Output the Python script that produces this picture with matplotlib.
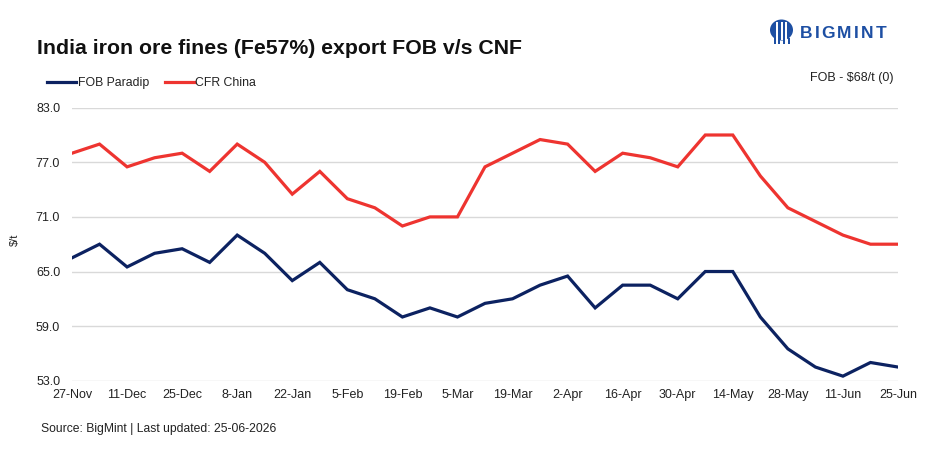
import matplotlib
matplotlib.use("Agg")
import matplotlib.pyplot as plt
from matplotlib.patches import Ellipse, Rectangle

plt.rcParams['font.family'] = ['Liberation Sans', 'DejaVu Sans']

tick_labels = ["27-Nov", "11-Dec", "25-Dec", "8-Jan", "22-Jan", "5-Feb", "19-Feb",
               "5-Mar", "19-Mar", "2-Apr", "16-Apr", "30-Apr", "14-May", "28-May",
               "11-Jun", "25-Jun"]

fob_paradip = [66.5, 68.0, 65.5, 67.0, 67.5, 66.0, 69.0, 67.0, 64.0, 66.0, 63.0,
               62.0, 60.0, 61.0, 60.0, 61.5, 62.0, 63.5, 64.5, 61.0, 63.5, 63.5,
               62.0, 65.0, 65.0, 60.0, 56.5, 54.5, 53.5, 55.0, 54.5]
cfr_china = [78.0, 79.0, 76.5, 77.5, 78.0, 76.0, 79.0, 77.0, 73.5, 76.0, 73.0,
             72.0, 70.0, 71.0, 71.0, 76.5, 78.0, 79.5, 79.0, 76.0, 78.0, 77.5,
             76.5, 80.0, 80.0, 75.5, 72.0, 70.5, 69.0, 68.0, 68.0]
y_ticks = [53, 59, 65, 71, 77, 83]

NAVY = "#0c2261"
RED = "#ee3430"
GRID = "#d9d9d9"
TXT = "#222222"

W, H = 926, 454
fig = plt.figure(figsize=(W/100, H/100), dpi=100)
ax = fig.add_axes([72/W, 1-380.7/H, (898-72)/W, (380.7-107.7)/H])

x = list(range(len(fob_paradip)))
ax.plot(x, fob_paradip, color=NAVY, lw=2.3, solid_joinstyle='miter', label="FOB Paradip", zorder=3)
ax.plot(x, cfr_china, color=RED, lw=2.3, solid_joinstyle='miter', label="CFR China", zorder=3)

ax.set_xlim(0, len(x)-1)
ax.set_ylim(53, 83)
ax.set_yticks(y_ticks)
ax.set_yticklabels([f"{v:.1f}" for v in y_ticks])
ax.set_xticks(x[::2])
ax.set_xticklabels(tick_labels)
ax.grid(axis='y', color=GRID, lw=1.0)
ax.set_axisbelow(True)
for s in ax.spines.values():
    s.set_visible(False)
ax.tick_params(axis='both', length=0, labelsize=9, colors=TXT)
ax.tick_params(axis='y', pad=8.5)
ax.tick_params(axis='x', pad=6)

fig.text(15/W, 1-240/H, "$/t", fontsize=8, rotation=90, ha='center', va='center', color=TXT)

leg = fig.legend(loc='center left', bbox_to_anchor=(47/W, 1-83/H), ncol=2, frameon=False,
                 fontsize=8.8, handlelength=2.4, handletextpad=0.1, columnspacing=1.3,
                 borderaxespad=0, borderpad=0)
for t in leg.get_texts():
    t.set_color(TXT)

fig.text(37/W, 1-48/H, "India iron ore fines (Fe57%) export FOB v/s CNF",
         fontsize=15.3, fontweight='bold', va='center', ha='left', color="#111111")
fig.text(893/W, 1-78/H, "FOB - $68/t (0)", fontsize=9, ha='right', va='center', color=TXT)
fig.text(41/W, 1-429/H, "Source: BigMint | Last updated: 25-06-2026", fontsize=8.7,
         ha='left', va='center', color=TXT)

# logo
LOGO = "#1d4fa3"
letters = "BIGMINT"
renderer = fig.canvas.get_renderer()
widths = []
for ch in letters:
    t = fig.text(0, 0, ch, fontsize=12.5, fontweight='bold')
    widths.append(t.get_window_extent(renderer).width)
    t.remove()
lx0, lx1 = 800, 886
gap = (lx1 - lx0 - sum(widths)) / (len(letters) - 1)
cx = lx0
for ch, w in zip(letters, widths):
    fig.text(cx/W, 1-34/H, ch, fontsize=12.5, fontweight='bold',
             ha='left', va='center', color=LOGO)
    cx += w + gap
fig.patches.append(Ellipse((781.5/W, 1-30/H), 23/W, 21/H, transform=fig.transFigure,
                           facecolor=LOGO, edgecolor='none'))
for dx in (-4.5, 0, 4.5):
    fig.patches.append(Rectangle(((781.5+dx-1)/W, 1-40/H), 2/W, 18/H, transform=fig.transFigure,
                                 facecolor='white', edgecolor='none'))
for dx in (-7, -2.3, 2.3, 7):
    fig.patches.append(Rectangle(((781.5+dx-1)/W, 1-44/H), 2/W, 6/H, transform=fig.transFigure,
                                 facecolor=LOGO, edgecolor='none'))

fig.savefig("out.png", dpi=100, facecolor='white')
